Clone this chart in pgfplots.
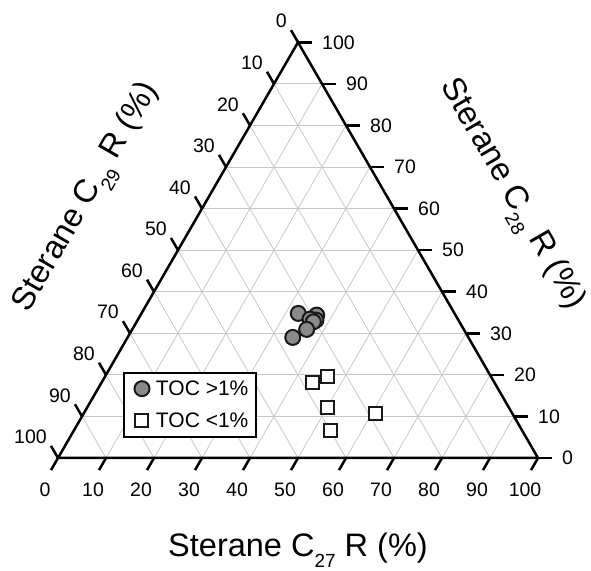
\documentclass[border=0pt]{standalone}
\usepackage{pgfplots}
\usepackage{pgfplotstable}
\pgfplotsset{compat=1.18}
\usepackage{fontspec}
\setmainfont{Liberation Sans}
\definecolor{gridc}{RGB}{200,200,200}
\definecolor{dotc}{RGB}{138,138,138}
\newcommand\ticksize{\fontsize{19.5bp}{19.5bp}\selectfont}
\newcommand\titlesize{\fontsize{32.5bp}{33bp}\selectfont}
\newcommand\sub[1]{\raisebox{-11bp}{\fontsize{19bp}{19bp}\selectfont #1}}
% columns: C27 (%), C28 (%); C29 = 100 - C27 - C28
\pgfplotstableread{
c27   c28
32.67 34.78
36.70 34.38
37.16 33.17
35.80 33.41
36.81 32.76
36.34 30.94
34.40 29.01
}\circtab
\pgfplotstableread{
c27   c28
44.00 18.10
46.33 19.54
50.00 12.19
53.39 6.56
60.67 10.75
}\sqtab
\begin{document}
\begin{tikzpicture}
\begin{axis}[
  scale only axis, width=591bp, height=571bp,
  xmin=-12.083, xmax=111.042, ymin=-23.542, ymax=95.417,
  hide axis, clip=false,
  legend style={at={(axis cs:13.54,18.0)}, anchor=north west,
    draw=black, line width=2bp, fill=white,
    font=\fontsize{21bp}{22bp}\selectfont,
    inner xsep=6bp, inner ysep=6bp, row sep=12bp, column sep=0bp,
    nodes={inner sep=2bp}},
  legend cell align=left,
  legend image code/.code={\path[draw=none,fill=none] (-12bp,-10bp) rectangle (12bp,10bp);\draw[#1] plot coordinates {(0bp,0bp)};},
]
% grid
\pgfplotsinvokeforeach{10,20,30,40,50,60,70,80,90}{
  \draw[gridc, line width=0.8bp] (axis cs:{#1/2},{0.86603*#1}) -- (axis cs:{100-#1/2},{0.86603*#1});
  \draw[gridc, line width=0.8bp] (axis cs:#1,0) -- (axis cs:{#1+(100-#1)/2},{0.86603*(100-#1)});
  \draw[gridc, line width=0.8bp] (axis cs:{100-#1},0) -- (axis cs:{(100-#1)/2},{0.86603*(100-#1)});
}
% triangle
\draw[line width=2.5bp, line join=miter] (axis cs:0,0) -- (axis cs:100,0) -- (axis cs:50,86.603) -- cycle;
% ticks and labels
\pgfplotsinvokeforeach{0,10,20,30,40,50,60,70,80,90,100}{
  \draw[line width=2.5bp] (axis cs:#1,0) -- (axis cs:{#1-1.46},-2.53);
  \node[anchor=center, inner sep=0pt, font=\ticksize] at (axis cs:{#1-2.7},-6.67) {#1};
  \draw[line width=2.5bp] (axis cs:{100-#1/2},{0.86603*#1}) -- (axis cs:{100-#1/2+2.92},{0.86603*#1});
  \node[anchor=west, inner sep=0pt, font=\ticksize] at (axis cs:{100-#1/2+5.0},{0.86603*#1}) {#1};
  \draw[line width=2.5bp] (axis cs:{(100-#1)/2},{0.86603*(100-#1)}) -- (axis cs:{(100-#1)/2-1.46},{0.86603*(100-#1)+2.53});
  \node[anchor=south east, inner sep=0pt, font=\ticksize] at (axis cs:{(100-#1)/2-2.3},{0.86603*(100-#1)+2.9}) {#1};
}
% titles
\node[anchor=base, font=\titlesize] at (axis cs:50,-20.625) {Sterane C\sub{27} R (\%)};
\node[rotate=60, font=\titlesize] at (axis cs:6.25,54.17) {Sterane C\sub{29} R (\%)};
\node[rotate=-60, font=\titlesize] at (axis cs:94.3,54.79) {Sterane C\sub{28} R (\%)};
% data
\addplot[only marks, mark=*, mark size=7.5bp, line width=2bp,
  mark options={fill=dotc, draw=black!90, line width=2bp}]
  table[x expr=\thisrow{c27}+0.5*\thisrow{c28}, y expr=0.86603*\thisrow{c28}] {\circtab};
\addlegendentry{TOC >1\%}
\addplot[only marks, mark=square*, mark size=6.5bp, line width=2bp,
  mark options={fill=white, draw=black!90, line width=2bp}]
  table[x expr=\thisrow{c27}+0.5*\thisrow{c28}, y expr=0.86603*\thisrow{c28}] {\sqtab};
\addlegendentry{TOC <1\%}
\end{axis}
\pgfresetboundingbox
\path (0,0) rectangle (591bp,571bp);
\end{tikzpicture}
\end{document}
